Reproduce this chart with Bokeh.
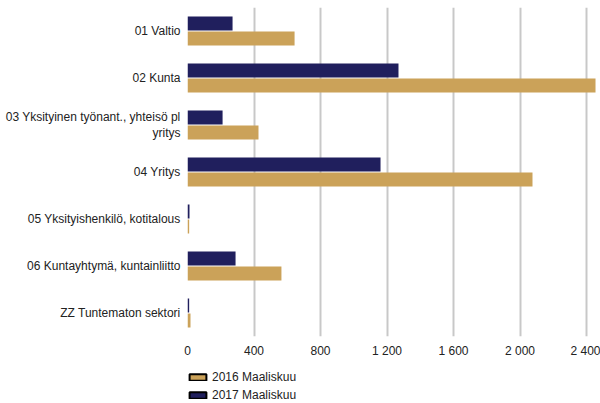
from bokeh.plotting import figure
from bokeh.layouts import column
from bokeh.models import (FactorRange, Range1d, FixedTicker, Legend, LegendItem,
                          ColumnDataSource)
from bokeh.transform import dodge
from bokeh.embed import file_html
from bokeh.resources import INLINE

categories = [
    "01 Valtio",
    "02 Kunta",
    "03 Yksityinen työnant., yhteisö pl\nyritys",
    "04 Yritys",
    "05 Yksityishenkilö, kotitalous",
    "06 Kuntayhtymä, kuntainliitto",
    "ZZ Tuntematon sektori",
]
values_2016 = [644, 2454, 427, 2075, 10, 565, 18]
values_2017 = [271, 1269, 211, 1161, 12, 289, 10]
series_names = ["2016 Maaliskuu", "2017 Maaliskuu"]
tick_values = [0, 400, 800, 1200, 1600, 2000, 2400]
tick_labels = ["0", "400", "800", "1 200", "1 600", "2 000", "2 400"]

GOLD = "#cba259"
NAVY = "#201f5d"
FONT = "Liberation Sans"
TEXT = "#222222"

src = ColumnDataSource(dict(cat=categories, v2016=values_2016, v2017=values_2017))

p = figure(
    width=600, height=360,
    y_range=FactorRange(factors=list(reversed(categories)), range_padding=0),
    x_range=Range1d(0, 2484),
    output_backend="svg", toolbar_location=None,
    min_border_left=187, min_border_right=0, min_border_top=7, min_border_bottom=22,
)
p.outline_line_color = None

p.hbar(y=dodge("cat", 0.16, range=p.y_range), right="v2017", left=0, height=0.3,
       source=src, fill_color=NAVY, line_color=None)
p.hbar(y=dodge("cat", -0.16, range=p.y_range), right="v2016", left=0, height=0.3,
       source=src, fill_color=GOLD, line_color=None)

p.xaxis.ticker = FixedTicker(ticks=tick_values)
p.xaxis.major_label_overrides = {v: l for v, l in zip(tick_values, tick_labels)}
for ax in (p.xaxis, p.yaxis):
    ax.axis_line_color = None
    ax.major_tick_line_color = None
    ax.minor_tick_line_color = None
    ax.major_tick_out = 0
    ax.major_tick_in = 0
    ax.major_label_text_font = FONT
    ax.major_label_text_font_size = "12px"
    ax.major_label_text_color = TEXT
    ax.major_label_standoff = 7

p.xgrid.grid_line_color = "#c8c8c8"
p.xgrid.grid_line_width = 2
p.ygrid.grid_line_color = None

# legend strip below the chart (its frame is aligned with the chart's frame)
lf = figure(width=600, height=43, output_backend="svg", toolbar_location=None,
            x_axis_location=None, y_axis_location=None,
            x_range=Range1d(0, 1), y_range=Range1d(0, 1),
            min_border_left=0, min_border_right=0, min_border_top=0, min_border_bottom=0)
lf.outline_line_color = None
lf.grid.grid_line_color = None

# hidden legend-only renderers (black outlined swatches)
r16 = lf.hbar(y="v2016", right="v2016", left=0, height=0.3, source=src,
              fill_color=GOLD, line_color="black", line_width=2, visible=False)
r17 = lf.hbar(y="v2017", right="v2017", left=0, height=0.3, source=src,
              fill_color=NAVY, line_color="black", line_width=2, visible=False)

legend = Legend(items=[LegendItem(label=series_names[0], renderers=[r16]),
                       LegendItem(label=series_names[1], renderers=[r17])],
                location=(0, 1), orientation="vertical",
                glyph_width=21, glyph_height=8, label_height=12, spacing=4,
                padding=0, margin=0, label_standoff=4,
                inactive_fill_alpha=0,
                label_text_font=FONT, label_text_font_size="12px", label_text_color=TEXT,
                border_line_color=None, background_fill_alpha=0)
lf.add_layout(legend)

layout = column(p, lf, spacing=0)
open("out.html", "w").write(file_html(layout, INLINE))
